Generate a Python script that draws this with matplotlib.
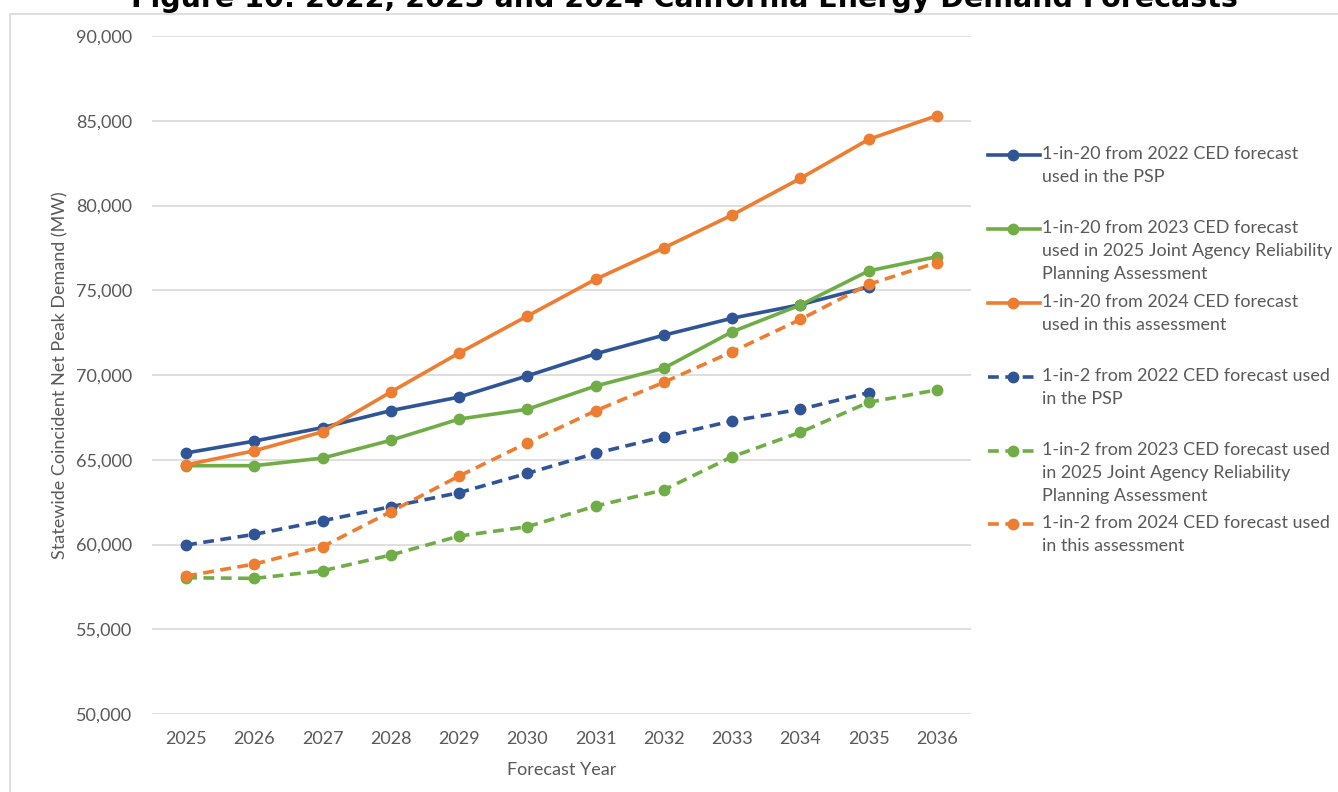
import matplotlib.pyplot as plt
from matplotlib.lines import Line2D
from matplotlib.patches import Rectangle
from matplotlib.ticker import FuncFormatter

# forecast years on the category axis
years = [2025, 2026, 2027, 2028, 2029, 2030, 2031, 2032, 2033, 2034, 2035, 2036]

# 1-in-20 peak demand (MW)
ced2022_1in20 = [65400, 66100, 66900, 67900, 68700, 69950, 71250, 72350, 73350, 74150, 75200]
ced2023_1in20 = [64650, 64650, 65100, 66150, 67400, 67980, 69350, 70400, 72550, 74130, 76140, 76980]
ced2024_1in20 = [64700, 65530, 66650, 69000, 71300, 73480, 75650, 77500, 79440, 81600, 83900, 85300]

# 1-in-2 peak demand (MW)
ced2022_1in2 = [59970, 60600, 61400, 62230, 63060, 64200, 65380, 66360, 67290, 67980, 68960]
ced2023_1in2 = [58040, 58000, 58450, 59380, 60500, 61050, 62270, 63220, 65180, 66620, 68390, 69120]
ced2024_1in2 = [58140, 58850, 59870, 61940, 64040, 66000, 67890, 69570, 71370, 73280, 75350, 76630]

labels = [
    "1-in-20 from 2022 CED forecast\nused in the PSP",
    "1-in-20 from 2023 CED forecast\nused in 2025 Joint Agency Reliability\nPlanning Assessment",
    "1-in-20 from 2024 CED forecast\nused in this assessment",
    "1-in-2 from 2022 CED forecast used\nin the PSP",
    "1-in-2 from 2023 CED forecast used\nin 2025 Joint Agency Reliability\nPlanning Assessment",
    "1-in-2 from 2024 CED forecast used\nin this assessment",
]

BLUE = "#2F5597"
GREEN = "#70AD47"
ORANGE = "#ED7D31"
TXT = "#595959"

plt.rcParams['font.family'] = ['Lato', 'DejaVu Sans']

fig = plt.figure(figsize=(13.38, 7.92), dpi=100)
W, H = 1338, 792

# outer chart frame
fig.patches.append(Rectangle((10 / W, -0.1), 1.2, 1 - 14 / H + 0.1, transform=fig.transFigure,
                             fill=False, edgecolor="#D9D9D9", linewidth=1.2))

fig.text(684 / W, 1 - 7 / H, "Figure 10: 2022, 2023 and 2024 California Energy Demand Forecasts",
         ha="center", va="baseline", fontsize=20.5, fontweight="bold",
         family="DejaVu Sans", color="black")

ax = fig.add_axes([152 / W, 1 - 714 / H, (971 - 152) / W, (714 - 36) / H])
x = list(range(len(years)))

series = [
    (ced2022_1in20, BLUE, "-"),
    (ced2023_1in20, GREEN, "-"),
    (ced2024_1in20, ORANGE, "-"),
    (ced2022_1in2, BLUE, (0, (3, 1.8))),
    (ced2023_1in2, GREEN, (0, (3, 1.8))),
    (ced2024_1in2, ORANGE, (0, (3, 1.8))),
]
for vals, col, ls in series:
    ax.plot(x[:len(vals)], vals, color=col, linestyle=ls, linewidth=2.6,
            marker="o", markersize=7.5, zorder=3)

ax.set_xlim(-0.5, len(years) - 0.5)
ax.set_ylim(50000, 90000)
ax.set_yticks(range(50000, 90001, 5000))
ax.yaxis.set_major_formatter(FuncFormatter(lambda v, p: f"{int(v):,}"))
ax.set_xticks(x)
ax.set_xticklabels([str(y) for y in years])
ax.grid(axis="y", color="#D9D9D9", linewidth=1.2)
ax.set_axisbelow(True)
for s in ax.spines.values():
    s.set_visible(False)
ax.tick_params(length=0, labelsize=13, labelcolor=TXT, pad=12)
ax.tick_params(axis="y", pad=14)

ax.set_xlabel("Forecast Year", fontsize=13, color=TXT, labelpad=11)
ax.set_ylabel("Statewide Coincident Net Peak Demand (MW)", fontsize=13, color=TXT, labelpad=6)

# legend drawn entry by entry so the key sits on the first text line
entry_top = [155, 229, 303, 377, 451, 524]
for (vals, col, ls), lab, yy in zip(series, labels, entry_top):
    yf = 1 - yy / H
    fig.add_artist(Line2D([988 / W, 1040 / W], [yf, yf], transform=fig.transFigure,
                          color=col, linestyle=ls, linewidth=2.6))
    fig.add_artist(Line2D([1013 / W], [yf], transform=fig.transFigure, color=col,
                          marker="o", markersize=7.5, linestyle="none"))
    fig.text(1042 / W, yf + 9 / H, lab, ha="left", va="top", fontsize=12.9,
             color=TXT, linespacing=1.55)

fig.savefig("out.png", dpi=100)
